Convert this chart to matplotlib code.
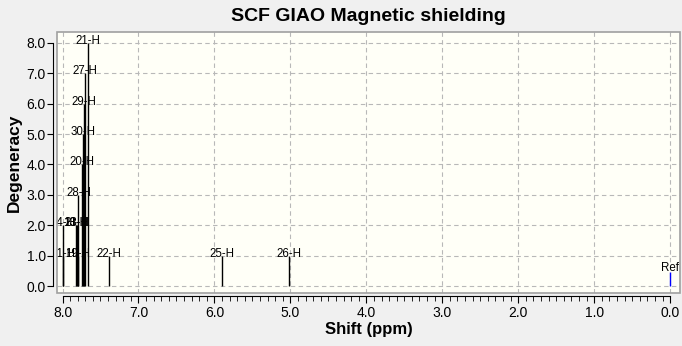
import numpy as np
import matplotlib.pyplot as plt
from matplotlib.patches import Rectangle
from matplotlib.ticker import MultipleLocator, FixedLocator

# computed shielding peaks (ppm, degeneracy, atom label)
shifts = [7.66, 7.70, 7.715, 7.73, 7.75, 7.79, 7.81, 7.99, 7.825, 7.99, 7.80, 7.39, 5.90, 5.02]
degeneracy = [8, 7, 6, 5, 4, 3, 2, 2, 2, 1, 1, 1, 1, 1]
atoms = ["21-H", "27-H", "29-H", "30-H", "20-H", "28-H", "23-H", "24-H", "18-H",
         "11-H", "19-H", "22-H", "25-H", "26-H"]

ref_shift = 0.0
ref_height = 0.45

plt.rcParams['font.family'] = ['Liberation Sans', 'DejaVu Sans']

fig = plt.figure(figsize=(6.82, 3.46), dpi=100, facecolor='#f0f0f0')
ax = fig.add_axes([57.5 / 682, 53 / 346, 622.5 / 682, 261 / 346])
ax.set_facecolor('#fffff7')

ax.set_xlim(8.066, -0.13)
ax.set_ylim(-0.23, 8.36)

for s, h, name in zip(shifts, degeneracy, atoms):
    ax.vlines(s, 0, h, color='black', lw=1)
    ax.text(s, h - 0.13, name, ha='center', va='bottom', fontsize=8.3, clip_on=True)

ax.vlines(ref_shift, 0, ref_height, color='blue', lw=1)
ax.text(ref_shift, ref_height - 0.06, "Ref", ha='center', va='bottom', fontsize=8.3, clip_on=True)

ax.xaxis.set_major_locator(MultipleLocator(1.0))
ax.xaxis.set_minor_locator(FixedLocator(np.round(np.arange(0, 8.01, 0.1), 1)))
ax.yaxis.set_major_locator(MultipleLocator(1.0))
ax.xaxis.set_major_formatter(lambda v, p: f"{v:.1f}")
ax.yaxis.set_major_formatter(lambda v, p: f"{v:.1f}")

ax.grid(True, which='major', color='#b8b8b8', ls=(0, (4, 3)), lw=0.8)
ax.set_axisbelow(True)

for side in ['top', 'right']:
    ax.spines[side].set_visible(False)
ax.spines['left'].set_position(('outward', 3))
ax.spines['bottom'].set_position(('outward', 2.5))
ax.spines['left'].set_bounds(0, 8)
ax.spines['bottom'].set_bounds(0, 8)

# gray frame around the plotting area
ax.add_patch(Rectangle((0, 0), 1, 1, transform=ax.transAxes, fill=False,
                       edgecolor='#a0a0a0', lw=1.2, clip_on=False, zorder=5))

ax.tick_params(axis='x', which='major', direction='out', length=5.2, labelsize=10, pad=2)
ax.tick_params(axis='x', which='minor', direction='out', length=3.3)
ax.tick_params(axis='y', which='major', direction='out', length=4, labelsize=10, pad=1.5)

ax.set_title("SCF GIAO Magnetic shielding", fontsize=14, fontweight='bold', pad=8)
ax.set_xlabel("Shift (ppm)", fontsize=12, fontweight='bold', labelpad=1)
ax.set_ylabel("Degeneracy", fontsize=12.5, fontweight='bold', labelpad=3)

fig.savefig("out.png", dpi=100, facecolor=fig.get_facecolor())
